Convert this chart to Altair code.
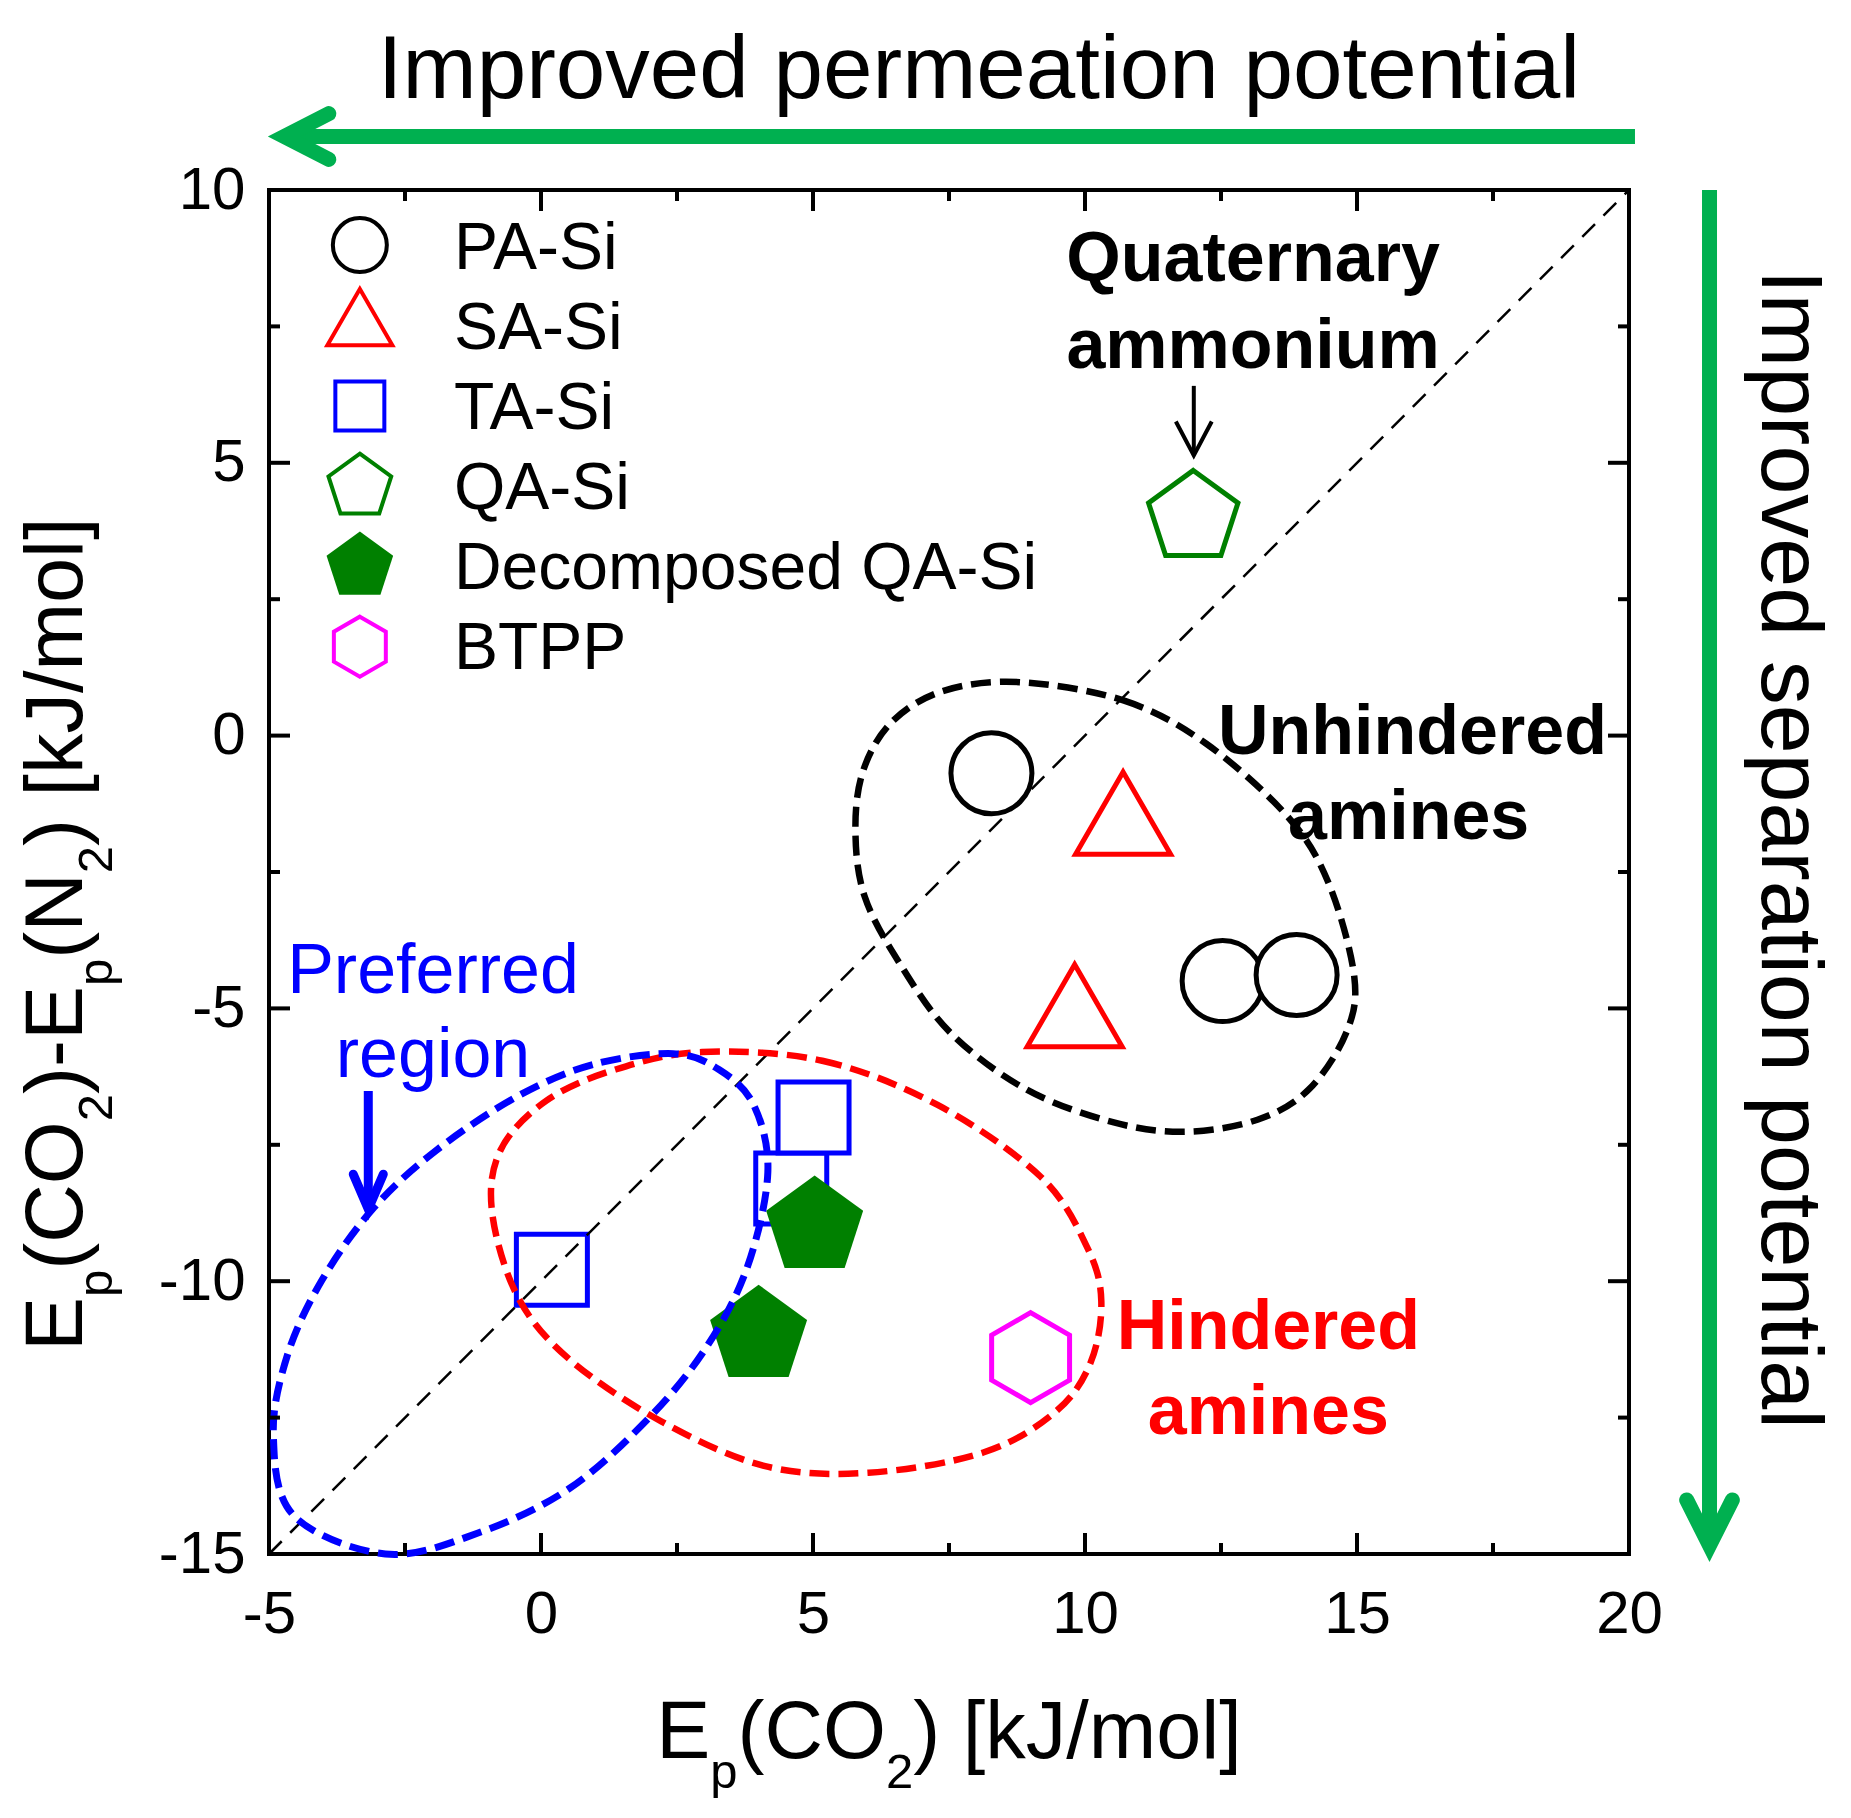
import altair as alt
import pandas as pd

FONT = "Liberation Sans"
W, H = 1360, 1364

# ---------------- data ----------------
pa_x = [8.28, 12.53, 13.89]
pa_y = [-0.69, -4.50, -4.39]
sa_x = [10.70, 9.81]
sa_y = [-1.42, -4.95]
ta_x = [4.60, 5.01, 0.20]
ta_y = [-8.30, -7.00, -9.79]
qa_x = [11.99]
qa_y = [4.08]
dqa_x = [5.03, 4.00]
dqa_y = [-8.91, -10.91]
btpp_x = [9.00]
btpp_y = [-11.40]

series_names = ["PA-Si", "SA-Si", "TA-Si", "QA-Si", "Decomposed QA-Si", "BTPP"]

# dashed 1:1 guide line
diag_x = [-5, 20]
diag_y = [-15, 10]

# outlines of the grouping regions (points traced on the picture)
unh_x = [8.80, 10.72, 12.23, 13.73, 14.48, 14.95, 14.80, 14.11, 13.17, 11.85, 10.53, 8.93, 7.53, 6.59, 5.95, 5.78, 5.92, 6.45, 7.40]
unh_y = [0.98, 0.64, -0.15, -1.49, -2.71, -4.42, -5.45, -6.49, -7.04, -7.26, -7.09, -6.49, -5.45, -4.17, -2.95, -1.75, -0.65, 0.25, 0.82]
hin_x = [2.96, 5.17, 7.29, 9.19, 10.04, 10.30, 10.10, 9.45, 8.13, 6.02, 4.12, 2.21, 0.52, -0.43, -0.90, -0.74, 0.10, 1.37]
hin_y = [-5.80, -5.96, -6.77, -8.09, -9.38, -10.37, -11.50, -12.40, -13.14, -13.51, -13.39, -12.57, -11.43, -10.28, -8.73, -7.59, -6.69, -6.12]
pref_x = [2.43, 0.95, -0.43, -1.91, -3.07, -4.02, -4.66, -4.92, -4.55, -2.86, -1.17, 0.52, 2.00, 3.06, 3.80, 4.17, 3.91, 3.27]
pref_y = [-5.83, -6.03, -6.61, -7.59, -8.65, -9.97, -11.35, -12.82, -14.29, -15.0, -14.62, -13.80, -12.49, -11.18, -9.72, -8.00, -6.77, -6.12]

# axis ticks
x_ticks = [-5, 0, 5, 10, 15, 20]
y_ticks = [-15, -10, -5, 0, 5, 10]
x_minor = [-2.5, 2.5, 7.5, 12.5, 17.5]
y_minor = [-12.5, -7.5, -2.5, 2.5, 7.5]

# legend placement (data units)
leg_sym_x = -3.33
leg_sym_y = [8.99, 7.67, 6.04, 4.62, 3.16, 1.63]
leg_txt_x = -1.60
leg_txt_y = [8.553, 7.087, 5.621, 4.155, 2.690, 1.224]

# annotations
quat_lines = ["Quaternary", "ammonium"]
quat_x = [13.09, 13.09]
quat_y = [8.329, 6.742]
unh_lines = ["Unhindered", "amines"]
unh_tx = [16.02, 15.95]
unh_ty = [-0.343, -1.900]
hin_lines = ["Hindered", "amines"]
hin_tx = [13.37, 13.37]
hin_ty = [-11.244, -12.801]
pref_lines = ["Preferred", "region"]
pref_tx = [-1.985, -1.985]
pref_ty = [-4.709, -6.266]

top_label = "Improved permeation potential"
top_label_x = [8.05]
top_label_y = [11.695]
side_label = "Improved separation potential"
side_label_x = [22.445]
side_label_y = [-2.08]

# axis titles: pieces (text, is_subscript) and their anchors (data units)
x_title_parts = [("E", False), ("p", True), ("(CO", False), ("2", True), (") [kJ/mol]", False)]
x_title_at = (7.5, -18.74)
y_title_parts = [("E", False), ("p", True), ("(CO", False), ("2", True), (")-E", False),
                 ("p", True), ("(N", False), ("2", True), (") [kJ/mol]", False)]
y_title_at = (-8.438, -3.64)

# arrows: shafts and heads (data units)
top_shaft_x = [20.11, -4.6]
top_shaft_y = [10.98, 10.98]
top_head_x = [-3.90, -4.72, -3.90]
top_head_y = [11.40, 10.98, 10.56]
side_shaft_x = [21.48, 21.48]
side_shaft_y = [10.0, -14.7]
side_head_x = [21.06, 21.48, 21.90]
side_head_y = [-14.01, -14.84, -14.01]
quat_shaft_x = [12.0, 12.0]
quat_shaft_y = [6.41, 5.14]
quat_head_x = [11.67, 12.0, 12.33]
quat_head_y = [5.758, 5.135, 5.758]
pref_shaft_x = [-3.175, -3.175]
pref_shaft_y = [-6.512, -8.6]
pref_head_x = [-3.451, -3.175, -2.899]
pref_head_y = [-8.038, -8.679, -8.038]

# ---------------- styling ----------------
PENT = "M0,-0.905L0.951,-0.214L0.588,0.905L-0.588,0.905L-0.951,-0.214Z"
HEX = "M0,-1L0.866,-0.5L0.866,0.5L0,1L-0.866,0.5L-0.866,-0.5Z"
GREEN = "#00B050"
TITLE_FS, SUB_FS, SUB_DY = 81, 49, 30
# Arial / Liberation Sans advance widths (per 1000 em) for the title glyphs
ADV = {"E": 667, "p": 556, "(": 333, "C": 722, "O": 778, "2": 556, ")": 333, "-": 333,
       "N": 722, " ": 278, "[": 278, "k": 500, "J": 500, "/": 278, "m": 833,
       "o": 556, "l": 222, "]": 278}

x_axis = alt.Axis(
    values=x_ticks, ticks=False, domain=False, grid=False,
    labelFont=FONT, labelFontSize=60, labelColor="black", labelPadding=31,
    labelFlush=False, labelOverlap=False, labelExpr="toString(datum.value)",
    title=None,
)
y_axis = alt.Axis(
    values=y_ticks, ticks=False, domain=False, grid=False,
    labelFont=FONT, labelFontSize=60, labelColor="black", labelPadding=24,
    labelOverlap=False, labelExpr="toString(datum.value)",
    title=None,
)
X_SCALE = alt.Scale(domain=[-5, 20], nice=False, zero=False)
Y_SCALE = alt.Scale(domain=[-15, 10], nice=False, zero=False)
X_ENC = alt.X("x:Q", scale=X_SCALE, axis=x_axis)
Y_ENC = alt.Y("y:Q", scale=Y_SCALE, axis=y_axis)


def df(xs, ys):
    return pd.DataFrame({"x": xs, "y": ys, "i": list(range(len(xs)))})


def points(xs, ys, shape, size, stroke, fill="white", sw=5):
    kw = dict(shape=shape, size=size, opacity=1, fill=fill, fillOpacity=1)
    if stroke is None:
        kw.update(filled=True, strokeWidth=0)
    else:
        kw.update(filled=False, stroke=stroke, strokeWidth=sw)
    return alt.Chart(df(xs, ys)).mark_point(**kw).encode(x=X_ENC, y=Y_ENC)


def line(xs, ys, color, width, dash=None, interp="linear", cap="butt"):
    kw = dict(color=color, strokeWidth=width, interpolate=interp,
              strokeCap=cap, strokeJoin="miter", strokeMiterLimit=10)
    if dash:
        kw["strokeDash"] = dash
    return alt.Chart(df(xs, ys)).mark_line(**kw).encode(
        x=X_ENC, y=Y_ENC, order="i:Q")


def texts(lines, xs, ys, color, size, weight="normal", align="center", angle=0):
    d = pd.DataFrame({"x": xs, "y": ys, "t": lines})
    kw = dict(font=FONT, fontSize=size, fontWeight=weight, color=color,
              align=align, baseline="alphabetic")
    if angle:
        kw["angle"] = angle
    return alt.Chart(d).mark_text(**kw).encode(x=X_ENC, y=Y_ENC, text="t:N")


def title_pieces(parts, at, angle=0):
    sizes = [SUB_FS if sub else TITLE_FS for _, sub in parts]
    widths = [sum(ADV[c] for c in t) / 1000.0 * fs for (t, _), fs in zip(parts, sizes)]
    start = -sum(widths) / 2.0
    out = []
    d = pd.DataFrame({"x": [at[0]], "y": [at[1]]})
    for (t, sub), fs, w in zip(parts, sizes, widths):
        kw = dict(font=FONT, fontSize=fs, color="black", align="left",
                  baseline="alphabetic", dx=start, dy=SUB_DY if sub else 0, text=t)
        if angle:
            kw["angle"] = angle
        out.append(alt.Chart(d).mark_text(**kw).encode(x=X_ENC, y=Y_ENC))
        start += w
    return out


def tick_rules(vals, axis, length):
    d = pd.DataFrame({"v": vals})
    out = []
    base = alt.Chart(d).mark_rule(color="black", strokeWidth=4)
    if axis == "x":
        enc = alt.X("v:Q", scale=X_SCALE, axis=x_axis)
        out.append(base.encode(x=enc, y=alt.value(H), y2=alt.value(H - length)))
        out.append(base.encode(x=enc, y=alt.value(0), y2=alt.value(length)))
    else:
        enc = alt.Y("v:Q", scale=Y_SCALE, axis=y_axis)
        out.append(base.encode(y=enc, x=alt.value(0), x2=alt.value(length)))
        out.append(base.encode(y=enc, x=alt.value(W), x2=alt.value(W - length)))
    return out


layers = []
# data markers
layers.append(points(pa_x, pa_y, "circle", 6561, "black"))
layers.append(points(sa_x, sa_y, "triangle-up", 9025, "red"))
layers.append(points(ta_x, ta_y, "square", 5041, "blue"))
layers.append(points(qa_x, qa_y, PENT, 8836, "green"))
layers.append(points(dqa_x, dqa_y, PENT, 10404, None, fill="green"))
layers.append(points(btpp_x, btpp_y, HEX, 8100, "magenta"))
# guide line and regions
layers.append(line(diag_x, diag_y, "black", 2.5, dash=[18, 12]))
layers.append(line(hin_x, hin_y, "red", 6.5, dash=[20, 9], interp="cardinal-closed"))
layers.append(line(pref_x, pref_y, "blue", 7, dash=[20, 9], interp="cardinal-closed"))
layers.append(line(unh_x, unh_y, "black", 6.5, dash=[20, 9], interp="cardinal-closed"))
# legend
layers.append(points([leg_sym_x], [leg_sym_y[0]], "circle", 2916, "black", sw=4))
layers.append(points([leg_sym_x], [leg_sym_y[1]], "triangle-up", 4225, "red", sw=4))
layers.append(points([leg_sym_x], [leg_sym_y[2]], "square", 2400, "blue", sw=4))
layers.append(points([leg_sym_x], [leg_sym_y[3]], PENT, 4356, "green", sw=4))
layers.append(points([leg_sym_x], [leg_sym_y[4]], PENT, 4900, None, fill="green"))
layers.append(points([leg_sym_x], [leg_sym_y[5]], HEX, 3600, "magenta", sw=4))
layers.append(texts(series_names, [leg_txt_x] * 6, leg_txt_y, "black", 66, align="left"))
# annotations
layers.append(texts(quat_lines, quat_x, quat_y, "black", 70, weight="bold"))
layers.append(texts(unh_lines, unh_tx, unh_ty, "black", 70, weight="bold"))
layers.append(texts(hin_lines, hin_tx, hin_ty, "red", 70, weight="bold"))
layers.append(texts(pref_lines, pref_tx, pref_ty, "blue", 70))
layers.append(line(quat_shaft_x, quat_shaft_y, "black", 4))
layers.append(line(quat_head_x, quat_head_y, "black", 4))
layers.append(line(pref_shaft_x, pref_shaft_y, "blue", 9))
layers.append(line(pref_head_x, pref_head_y, "blue", 9, cap="round"))
# outer arrows and labels
layers.append(line(top_shaft_x, top_shaft_y, GREEN, 15))
layers.append(line(top_head_x, top_head_y, GREEN, 15, cap="round"))
layers.append(line(side_shaft_x, side_shaft_y, GREEN, 15))
layers.append(line(side_head_x, side_head_y, GREEN, 15, cap="round"))
layers.append(texts([top_label], top_label_x, top_label_y, "black", 89))
layers.append(texts([side_label], side_label_x, side_label_y, "black", 88, angle=90))
# axis titles with real subscripts
layers += title_pieces(x_title_parts, x_title_at)
layers += title_pieces(y_title_parts, y_title_at, angle=270)
# inward ticks on all four sides
layers += tick_rules(x_ticks, "x", 21)
layers += tick_rules(x_minor, "x", 11)
layers += tick_rules(y_ticks, "y", 21)
layers += tick_rules(y_minor, "y", 11)

chart = alt.layer(*layers).properties(
    width=W, height=H,
    autosize=alt.AutoSizeParams(type="none"),
    padding={"left": 261, "top": 182, "right": 214, "bottom": 250},
    background="white",
).configure_view(stroke="black", strokeWidth=4)

chart.save("out.html", embed_options={"renderer": "svg", "actions": False})
